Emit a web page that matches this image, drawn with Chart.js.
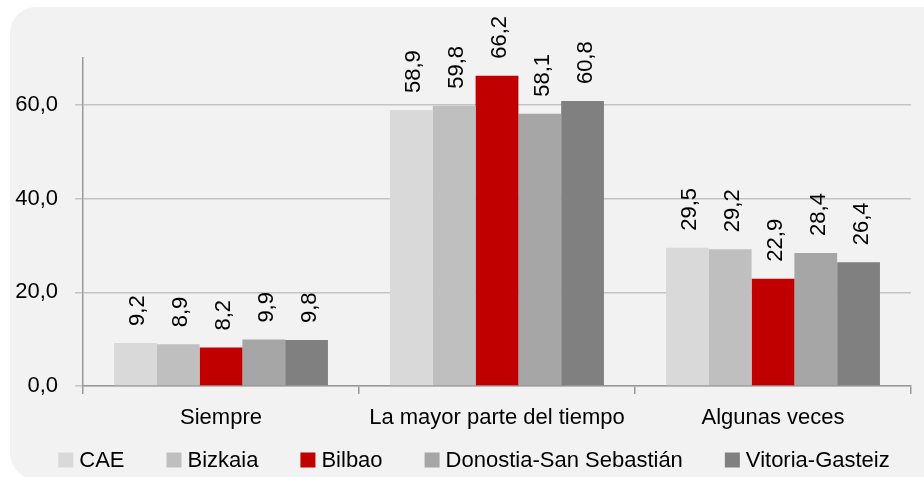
<!DOCTYPE html>
<html>
<head>
<meta charset="utf-8">
<script src="https://cdn.jsdelivr.net/npm/chart.js@4"></script>
<style>
  html, body { margin: 0; padding: 0; background: #fff; }
  #wrap { width: 924px; height: 477px; }
</style>
</head>
<body>
<div id="wrap"><canvas id="chart" width="924" height="477"></canvas></div>
<script>
// --- data ---
const categories = ['Siempre', 'La mayor parte del tiempo', 'Algunas veces'];
const seriesNames = ['CAE', 'Bizkaia', 'Bilbao', 'Donostia-San Sebastián', 'Vitoria-Gasteiz'];
const cae = [9.2, 58.9, 29.5];
const bizkaia = [8.9, 59.8, 29.2];
const bilbao = [8.2, 66.2, 22.9];
const donostia = [9.9, 58.1, 28.4];
const vitoria = [9.8, 60.8, 26.4];
const yTicks = [0, 20, 40, 60];

const COLORS = ['#d9d9d9', '#bfbfbf', '#c00000', '#a6a6a6', '#808080'];
const FONT = "'Liberation Sans', Arial, sans-serif";
const FS = 22;

const fmt = (v) => v.toFixed(1).replace('.', ',');

// rounded grey panel behind the chart
const panelPlugin = {
  id: 'panel',
  beforeDraw(chart) {
    const ctx = chart.ctx;
    ctx.save();
    ctx.fillStyle = '#f2f2f2';
    ctx.beginPath();
    ctx.roundRect(10, 7, 940, 472, 26);
    ctx.fill();
    ctx.restore();
  },
};

// vertical value labels above every bar
const valueLabels = {
  id: 'valueLabels',
  afterDatasetsDraw(chart) {
    const ctx = chart.ctx;
    ctx.save();
    ctx.font = FS + 'px ' + FONT;
    ctx.fillStyle = '#000';
    ctx.textAlign = 'left';
    ctx.textBaseline = 'alphabetic';
    chart.data.datasets.forEach(function (ds, di) {
      chart.getDatasetMeta(di).data.forEach(function (bar, i) {
        ctx.save();
        ctx.translate(bar.x + 9, bar.y - 17);
        ctx.rotate(-Math.PI / 2);
        ctx.fillText(fmt(ds.data[i]), 0, 0);
        ctx.restore();
      });
    });
    ctx.restore();
  },
};

// legend row along the bottom (Excel-like spacing)
const bottomLegend = {
  id: 'bottomLegend',
  afterDraw(chart) {
    const ctx = chart.ctx;
    const box = 15, gap = 6, spacing = 42, cy = 460;
    ctx.save();
    ctx.font = FS + 'px ' + FONT;
    ctx.textAlign = 'left';
    ctx.textBaseline = 'middle';
    const items = chart.data.datasets;
    const widths = items.map((ds) => ctx.measureText(ds.label).width);
    const total = widths.reduce((s, w) => s + box + gap + w, 0) + spacing * (items.length - 1);
    let x = 474 - total / 2;
    items.forEach(function (ds, i) {
      ctx.fillStyle = ds.backgroundColor;
      ctx.fillRect(x, cy - box / 2, box, box);
      ctx.fillStyle = '#000';
      ctx.fillText(ds.label, x + box + gap, cy + 1);
      x += box + gap + widths[i] + spacing;
    });
    ctx.restore();
  },
};

const allSeries = [cae, bizkaia, bilbao, donostia, vitoria];

new Chart(document.getElementById('chart'), {
  type: 'bar',
  data: {
    labels: categories,
    datasets: seriesNames.map((name, i) => ({
      label: name,
      data: allSeries[i],
      backgroundColor: COLORS[i],
      borderWidth: 0,
      barPercentage: 1,
      categoryPercentage: 0.775,
    })),
  },
  options: {
    responsive: false,
    animation: false,
    layout: { padding: { top: 58, right: 13, left: 0, bottom: 41 } },
    plugins: {
      legend: { display: false },
      tooltip: { enabled: false },
    },
    scales: {
      x: {
        afterFit: (s) => { s.height = 50; },
        grid: {
          offset: true,
          drawOnChartArea: false,
          drawTicks: true,
          tickLength: 8,
          color: '#999',
          lineWidth: 1.5,
        },
        border: { color: '#999', width: 1.5 },
        ticks: {
          font: { family: FONT, size: FS },
          color: '#000',
          padding: 11,
          maxRotation: 0,
          autoSkip: false,
        },
      },
      y: {
        min: 0,
        max: 70,
        afterFit: (s) => { s.width = 83; },
        afterBuildTicks: (s) => { s.ticks = yTicks.map((v) => ({ value: v })); },
        grid: {
          color: '#c4c4c4',
          lineWidth: 1.5,
          tickLength: 8,
        },
        border: { color: '#999', width: 1.5 },
        ticks: {
          font: { family: FONT, size: FS },
          color: '#000',
          padding: 17,
          callback: (v) => fmt(v),
        },
      },
    },
  },
  plugins: [panelPlugin, valueLabels, bottomLegend],
});
</script>
</body>
</html>
